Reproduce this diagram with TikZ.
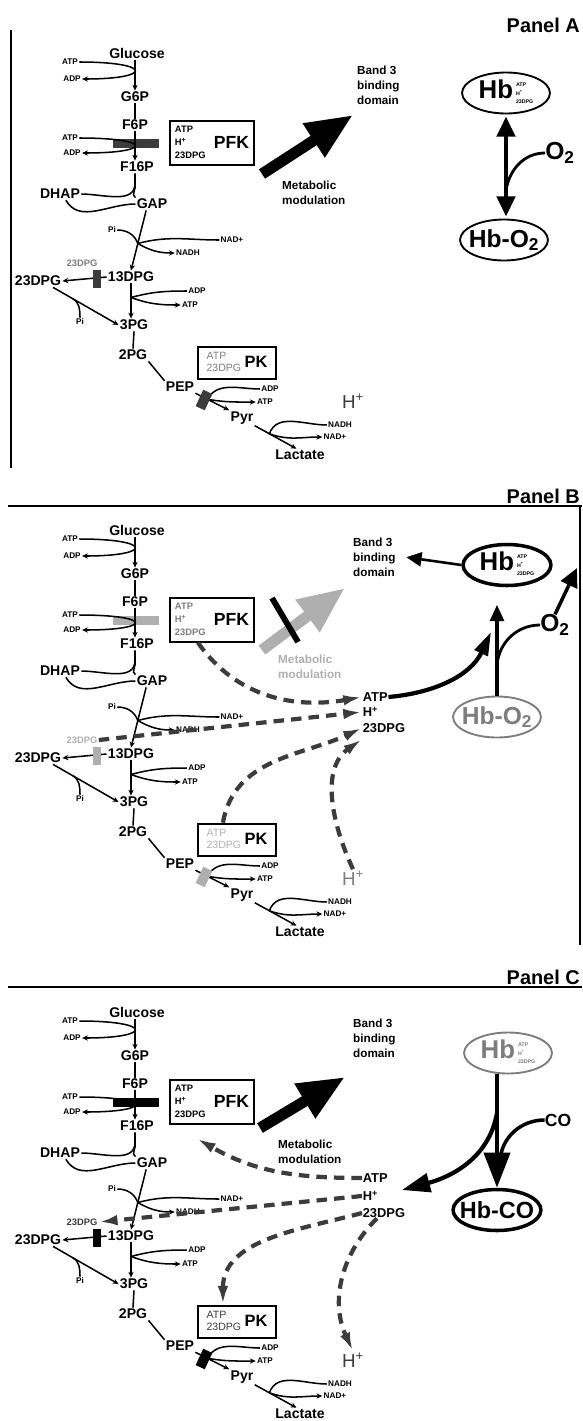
\documentclass[tikz,border=0pt]{standalone}
\usepackage{fontspec}
\setmainfont{Liberation Sans}
\usetikzlibrary{arrows.meta,shapes.geometric}
\definecolor{ink}{RGB}{0,0,0}
\definecolor{dk}{RGB}{60,60,60}
\definecolor{md}{RGB}{125,125,125}
\definecolor{lt}{RGB}{175,175,175}
\newcommand{\hbmark}{{\fontsize{22}{22}\selectfont Hb}\kern2.5pt\raisebox{3pt}{\fontsize{4.5}{7.5}\selectfont\begin{tabular}{@{}l@{}}ATP\\H\textsuperscript{+}\\23DPG\end{tabular}}}
\tikzset{
  met/.style={font=\bfseries\fontsize{12}{12}\selectfont, inner sep=1pt},
  cof/.style={font=\bfseries\fontsize{7}{7}\selectfont, inner sep=1pt},
  fx/.style={font=\bfseries\fontsize{11}{11}\selectfont, inner sep=0.5pt},
  lbl/.style={font=\bfseries\fontsize{10}{12.5}\selectfont, align=left, inner sep=0pt},
  tag/.style={font=\bfseries\fontsize{17}{17}\selectfont, inner sep=0pt},
  rxn/.style={line width=1.3pt},
  tip/.style={-{Stealth[length=5pt,width=4.5pt]}},
  enz/.style={draw, line width=1.6pt, inner sep=0pt},
  hbring/.style={ellipse, draw, line width=1.6pt, inner sep=-6pt, font=\bfseries,
    minimum width=75pt, minimum height=35pt},
  dasharr/.style={dk, line width=3.6pt, dash pattern=on 9pt off 6pt,
    -{Latex[length=16pt,width=9pt]}},
  fat/.style={line width=9.5pt, -{Triangle[length=40pt,width=32pt]}}
}
\begin{document}
\begin{tikzpicture}[x=0.03cm,y=-0.03cm]
  \useasboundingbox (0,0) rectangle (582,1421);
  % glycolysis, once per panel
  \foreach \p/\oy/\barc/\boxc/\blkc/\pkc/\hc in
    {A/0/dk/ink/dk/md/dk, B/477/lt/md/lt/lt/md, C/959/ink/ink/ink/dk/dk}{
  \begin{scope}[shift={(0,\oy)}]
    \node[met] (glc\p) at (137,53) {Glucose};
    \node[cof] (atpa\p) at (70,62) {ATP};
    \node[cof] (adpa\p) at (72,79) {ADP};
    \node[met] (g6p\p) at (135,97) {G6P};
    \node[met] (f6p\p) at (135,125) {F6P};
    \node[cof] (atpb\p) at (70,138) {ATP};
    \node[cof] (adpb\p) at (72,153) {ADP};
    \node[met] (fbp\p) at (137,167) {F16P};
    \node[met] (dhap\p) at (60,194) {DHAP};
    \node[met] (gap\p) at (152,204) {GAP};
    \node[cof] (pia\p) at (112,230) {Pi};
    \node[cof] (nad\p) at (232,240) {NAD+};
    \node[cof] (nadh\p) at (188,253) {NADH};
    \node[cof,text=\pkc,font=\bfseries\fontsize{8}{8}\selectfont] (dpgs\p) at (82,263) {23DPG};
    \node[met] (bpg\p) at (131,277) {13DPG};
    \node[met] (dpg\p) at (38,281) {23DPG};
    \node[cof] (adpc\p) at (197,291) {ADP};
    \node[cof] (atpc\p) at (190,305) {ATP};
    \node[cof] (pib\p) at (80,322) {Pi};
    \node[met] (pga\p) at (134,325) {3PG};
    \node[met] (pgb\p) at (133,355) {2PG};
    \node[met] (pep\p) at (180,387) {PEP};
    \node[cof] (adpd\p) at (270,389) {ADP};
    \node[cof] (atpd\p) at (265,402) {ATP};
    \node[met] (pyr\p) at (242,418) {Pyr};
    \node[cof] (nadhb\p) at (340,425) {NADH};
    \node[cof] (nadb\p) at (335,437) {NAD+};
    \node[met] (lac\p) at (300,455) {Lactate};
    \node[font=\fontsize{16}{16}\selectfont, text=\hc, inner sep=1pt] (hion\p) at (353,401) {H\textsuperscript{+}};
    \node[enz, minimum width=72pt, minimum height=37pt] (pfk\p) at (212,143)
      {{\bfseries\color{\boxc}\fontsize{8}{11}\selectfont\begin{tabular}{@{}l@{}}ATP\\H\textsuperscript{+}\\23DPG\end{tabular}}\hspace{7pt}\raisebox{-2.5pt}{\bfseries\fontsize{15}{15}\selectfont PFK}};
    \node[enz, minimum width=67pt, minimum height=28pt] (pk\p) at (237,363)
      {{\color{\pkc}\fontsize{9}{10.5}\selectfont\begin{tabular}{@{}l@{}}ATP\\23DPG\end{tabular}}\hspace{3pt}\raisebox{-2pt}{\bfseries\fontsize{14}{14}\selectfont PK}};
    % reactions
    \draw[rxn,tip] (glc\p.south -| g6p\p) -- (g6p\p.north);
    \draw[rxn,tip] (atpa\p.east) .. controls (153,62) and (153,79) .. (adpa\p.east);
    \draw[rxn] (g6p\p) -- (f6p\p);
    \fill[\barc] (113,139) rectangle (159,148);
    \draw[rxn,tip] (f6p\p) -- (f6p\p |- fbp\p.north);
    \draw[rxn,tip] (atpb\p.east) .. controls (153,138) and (153,153) .. (adpb\p.east);
    \draw[rxn] (fbp\p.south -| f6p\p) -- ++(0,10) coordinate (sp\p) to[out=-90,in=0] (dhap\p.east);
    \draw[rxn] (sp\p) to[out=-70,in=150] (gap\p.north west);
    \draw[rxn] ([xshift=5pt]dhap\p.south) to[out=-60,in=180] (gap\p.west);
    \draw[rxn,tip] ([xshift=-5pt]gap\p.south) -- coordinate[pos=0.55] (ja\p) (bpg\p.north);
    \draw[rxn] (pia\p.east) to[out=0,in=110] (ja\p);
    \draw[rxn] (ja\p) to[out=15,in=180] (nad\p.west);
    \draw[rxn,tip] (ja\p) to[out=-30,in=180] (nadh\p.west);
    \draw[rxn,tip] (bpg\p.west) -- (dpg\p.east);
    \fill[\blkc] (93,270) rectangle (101,288);
    \draw[rxn,tip] (bpg\p.south) -- coordinate[pos=0.4] (jb\p) (bpg\p.south |- pga\p.north);
    \draw[rxn] (jb\p) to[out=15,in=180] (adpc\p.west);
    \draw[rxn,tip] (jb\p) to[out=-20,in=180] (atpc\p.west);
    \draw[rxn,tip] ([xshift=-8pt]dpg\p.south east) -- coordinate[pos=0.3] (jc\p) (pga\p.west);
    \draw[rxn] (pib\p.north) to[out=90,in=-30] (jc\p);
    \draw[rxn] (pga\p.south) -- (pgb\p.north);
    \draw[rxn] (pgb\p.south east) -- (pep\p.north west);
    \draw[rxn,tip] (pep\p.south east) -- coordinate[pos=0.35] (jd\p) (pyr\p.north west);
    \draw[rxn] (adpd\p.west) to[out=180,in=60] (jd\p);
    \draw[rxn,tip] (jd\p) to[out=-10,in=180] (atpd\p.west);
    \fill[\blkc, rotate around={-25:(204,400)}] (199,391) rectangle (209,409);
    \draw[rxn,tip] (pyr\p.south east) -- coordinate[pos=0.35] (je\p) ([xshift=-3pt]lac\p.north);
    \draw[rxn] (nadhb\p.west) to[out=180,in=70] (je\p);
    \draw[rxn,tip] (je\p) to[out=-20,in=180] (nadb\p.west);
  \end{scope}}
  % panel frames
  \draw[line width=1.4pt] (11,30) -- (11,468);
  \draw[line width=1.6pt] (8,506) -- (582,506) (580,506) -- (580,945);
  \draw[line width=1.4pt] (8,987) -- (582,987);
  \node[tag, anchor=base east] (tagA) at (580,32) {Panel A};
  \node[tag, anchor=base east] (tagB) at (580,503) {Panel B};
  \node[tag, anchor=base east] (tagC) at (580,984) {Panel C};
  % panel A
  \node[lbl, anchor=north west] (band3A) at (357,66) {Band 3\\binding\\domain};
  \node[lbl, anchor=north west] (metA) at (282,181) {Metabolic\\modulation};
  \coordinate (fatA0) at (262,174);
  \coordinate (fatA1) at (353,115);
  \draw[fat] (fatA0) -- (fatA1);
  \node[hbring] (hbA) at (506,93) {\hbmark};
  \node[hbring] (hbo2A) at (504,240) {\fontsize{21}{21}\selectfont Hb-O\textsubscript{2}};
  \draw[line width=2.6pt, {Triangle[length=17pt,width=16pt]}-{Triangle[length=17pt,width=16pt]}, shorten <=2pt, shorten >=2pt]
    (hbA.south) -- (hbA.south |- hbo2A.north);
  \node[font=\bfseries\fontsize{21}{21}\selectfont, inner sep=0pt] (o2A) at (560,153) {O\textsubscript{2}};
  \coordinate (jA) at (506,190);
  \draw[line width=2.4pt] (o2A.west) to[out=180,in=80] (jA);
  % panel B
  \node[lbl, anchor=north west] (band3B) at (353,538) {Band 3\\binding\\domain};
  \node[lbl, anchor=north west, text=lt] (metB) at (278,655) {Metabolic\\modulation};
  \coordinate (fatB0) at (262,650);
  \coordinate (fatB1) at (345,588);
  \draw[fat, lt] (fatB0) -- (fatB1);
  \draw[line width=5pt] (272,598) -- (298,642);
  \node[hbring, line width=3pt] (hbB) at (507,565) {\hbmark};
  \draw[line width=2.2pt, -{Triangle[length=13pt,width=12pt]}] (hbB.west) -- ([xshift=9pt]band3B.east);
  \node[hbring, draw=md, text=md] (hbo2B) at (497,717) {\fontsize{21}{21}\selectfont Hb-O\textsubscript{2}};
  \draw[line width=2.6pt, -{Triangle[length=14pt,width=12pt]}, shorten >=15pt] (hbo2B.north) -- (hbo2B.north |- hbB.south);
  \node[font=\bfseries\fontsize{21}{21}\selectfont, inner sep=0pt] (o2B) at (555,625) {O\textsubscript{2}};
  \coordinate (jB) at (497,665);
  \draw[line width=2.4pt] (o2B.west) to[out=180,in=85] (jB);
  \coordinate (o2outB) at (577,568);
  \draw[line width=3pt, -{Triangle[length=16pt,width=15pt]}] (o2B.north) -- (o2outB);
  \node[fx, anchor=west] (atpB) at (362,697) {ATP};
  \node[fx, anchor=west] (hpB) at (362,712) {H\textsuperscript{+}};
  \node[fx, anchor=west] (dpgB) at (362,728) {23DPG};
  \coordinate (mergeB) at (491,632);
  \draw[line width=3.6pt, -{Triangle[length=20pt,width=12pt]}] (atpB.east) to[out=5,in=-115] (mergeB);
  \draw[dasharr] ([xshift=-12pt]pfkB.south) to[out=-55,in=190] (atpB.west);
  \draw[dasharr] (dpgsB.east) -- (hpB.west);
  \draw[dasharr] ([xshift=-12pt]pkB.north) to[out=80,in=205] (dpgB.west);
  \draw[dasharr] (hionB.north) to[out=115,in=215] ([yshift=-5pt]dpgB.south west);
  % panel C
  \node[lbl, anchor=north west] (band3C) at (353,1019) {Band 3\\binding\\domain};
  \node[lbl, anchor=north west] (metC) at (278,1140) {Metabolic\\modulation};
  \coordinate (fatC0) at (260,1128);
  \coordinate (fatC1) at (345,1077);
  \draw[fat] (fatC0) -- (fatC1);
  \node[hbring, draw=md, text=md] (hbC) at (508,1053) {\hbmark};
  \node[hbring, line width=3pt] (hbcoC) at (497,1210) {\fontsize{20}{20}\selectfont Hb-CO};
  \draw[line width=4pt, -{Triangle[length=30pt,width=22pt]}] (hbcoC.north |- hbC.south) -- (hbcoC.north);
  \node[font=\bfseries\fontsize{15}{15}\selectfont, inner sep=0pt] (coC) at (558,1120) {CO};
  \coordinate (jC) at (500,1160);
  \draw[line width=3pt] (coC.west) to[out=180,in=85] (jC);
  \coordinate (mergeC) at (497,1113);
  \coordinate (intoC) at (402,1190);
  \draw[line width=3.6pt, -{Triangle[length=24pt,width=16pt]}] (mergeC) to[out=-100,in=15] (intoC);
  \node[fx, anchor=west] (atpC) at (362,1178) {ATP};
  \node[fx, anchor=west] (hpC) at (362,1196) {H\textsuperscript{+}};
  \node[fx, anchor=west] (dpgC) at (362,1213) {23DPG};
  \draw[dasharr] (atpC.west) to[out=180,in=-30] ([shift={(-15,14)}]pfkC.south);
  \draw[dasharr] (hpC.west) -- (dpgsC.east);
  \draw[dasharr] (dpgC.west) to[out=195,in=90] ([xshift=-12pt]pkC.north);
  \draw[dasharr] ([xshift=-6pt]dpgC.south) to[out=225,in=115] (hionC.north);
\end{tikzpicture}
\end{document}
